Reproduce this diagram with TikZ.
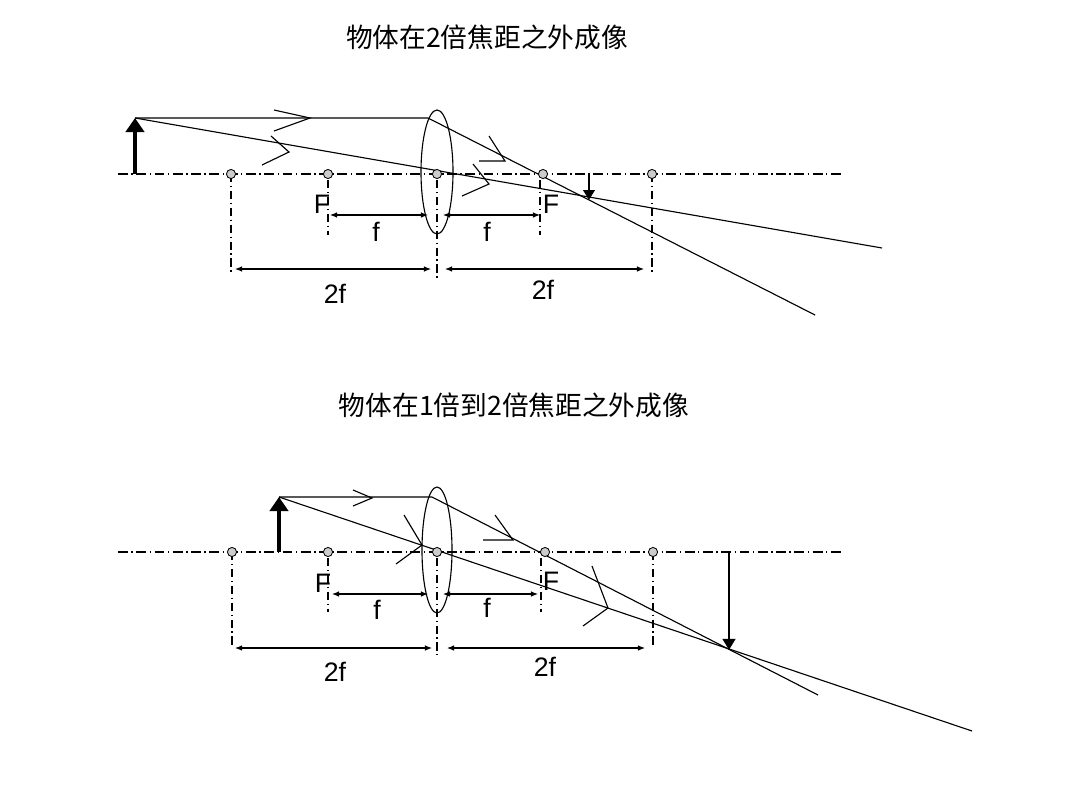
\documentclass[tikz,border=0pt]{standalone}
\usepackage{fontspec}
\setmainfont{Liberation Sans}
\newfontfamily\cjk{Noto Sans CJK SC}
\usetikzlibrary{arrows.meta}
\begin{document}
\begin{tikzpicture}[x=0.025cm,y=-0.025cm,line width=0.8pt,
  axisl/.style={dash pattern=on 7pt off 2.5pt on 1pt off 2.5pt},
  dimv/.style={dash pattern=on 6pt off 2.5pt on 1pt off 2.5pt},
  dot/.style={circle,draw,fill=gray!40,inner sep=0pt,minimum size=6.5pt,line width=0.6pt},
  dim/.style={{Latex[length=5pt,width=4pt]}-{Latex[length=5pt,width=4pt]}},
  obj/.style={line width=3.5pt,-{Triangle[length=10pt,width=13pt]}},
  lbl/.style={font=\fontsize{19}{22}\selectfont,inner sep=0pt},
  ttl/.style={font=\cjk\fontsize{19}{22}\selectfont,inner sep=0pt}]
\useasboundingbox (0,0) rectangle (1080,810);
\fill[white] (0,0) rectangle (1080,810);
% ---------- top ----------
\node[ttl] (t1) at (487,37) {物体在2倍焦距之外成像};
\draw[axisl] (118,174) -- (842,174);
\foreach \x/\n in {231/a1,328/a2,437/a3,543/a4,652/a5} \coordinate (\n) at (\x,174);
\draw[dimv] (231,174) -- (231,272);
\draw[dimv] (328,180) -- (328,235);
\draw[dimv] (437,180) -- (437,278);
\draw[dimv] (540,180) -- (540,235);
\draw[dimv] (652,174) -- (652,272);
\draw (437,172) ellipse (16 and 62);
\draw[dim] (330,215) -- (428,215);
\draw[dim] (443,215) -- (540,215);
\draw[dim] (235,269) -- (431,269);
\draw[dim] (445,269) -- (644,269);
\node[lbl] (F1) at (322,204) {F};
\node[lbl] (F2) at (551,204) {F};
\node[lbl] (f1) at (376,232) {f};
\node[lbl] (f2) at (487,232) {f};
\node[lbl] (d1) at (335,294) {2f};
\node[lbl] (d2) at (543,290) {2f};
\draw[obj] (135,174) -- (135,118);
\draw (135,118) -- (428,118) -- (815,315);
\draw (135,118) -- (882,248);
\draw[line width=2pt,-{Triangle[length=7pt,width=8pt]}] (589,174) -- (589,200);
\draw (274,110) -- (310,118) -- (274,131);
\draw (271,136) -- (289,152) -- (262,165);
\draw (489,136) -- (505,161) -- (479,161);
\draw (473,164) -- (489,184) -- (462,196);
\foreach \n in {a1,a2,a3,a4,a5} \node[dot] at (\n) {};
% ---------- bottom ----------
\node[ttl] (t2) at (514,405) {物体在1倍到2倍焦距之外成像};
\draw[axisl] (118,552) -- (842,552);
\foreach \x/\n in {232/b1,328/b2,437/b3,545/b4,653/b5} \coordinate (\n) at (\x,552);
\draw[dimv] (232,552) -- (232,648);
\draw[dimv] (328,558) -- (328,612);
\draw[dimv] (437,558) -- (437,655);
\draw[dimv] (541,558) -- (541,612);
\draw[dimv] (653,552) -- (653,648);
\draw (437,550) ellipse (15 and 63);
\draw[dim] (332,594) -- (428,594);
\draw[dim] (443,594) -- (538,594);
\draw[dim] (235,648) -- (432,648);
\draw[dim] (447,648) -- (645,648);
\node[lbl] (F3) at (323,583) {F};
\node[lbl] (F4) at (551,581) {F};
\node[lbl] (f3) at (377,610) {f};
\node[lbl] (f4) at (487,608) {f};
\node[lbl] (d3) at (335,672) {2f};
\node[lbl] (d4) at (545,667) {2f};
\draw[obj] (279,552) -- (279,497);
\draw (279,497) -- (432,497) -- (818,695);
\draw (279,497) -- (972,731);
\draw[line width=2pt,-{Triangle[length=8pt,width=9pt]}] (729,552) -- (729,650);
\draw (353,490) -- (372,498) -- (353,506);
\draw (404,515) -- (422,545) -- (396,564);
\draw (495,515) -- (513,540) -- (483,540);
\draw (592,566) -- (608,608) -- (583,626);
\foreach \n in {b1,b2,b3,b4,b5} \node[dot] at (\n) {};
\end{tikzpicture}
\end{document}
